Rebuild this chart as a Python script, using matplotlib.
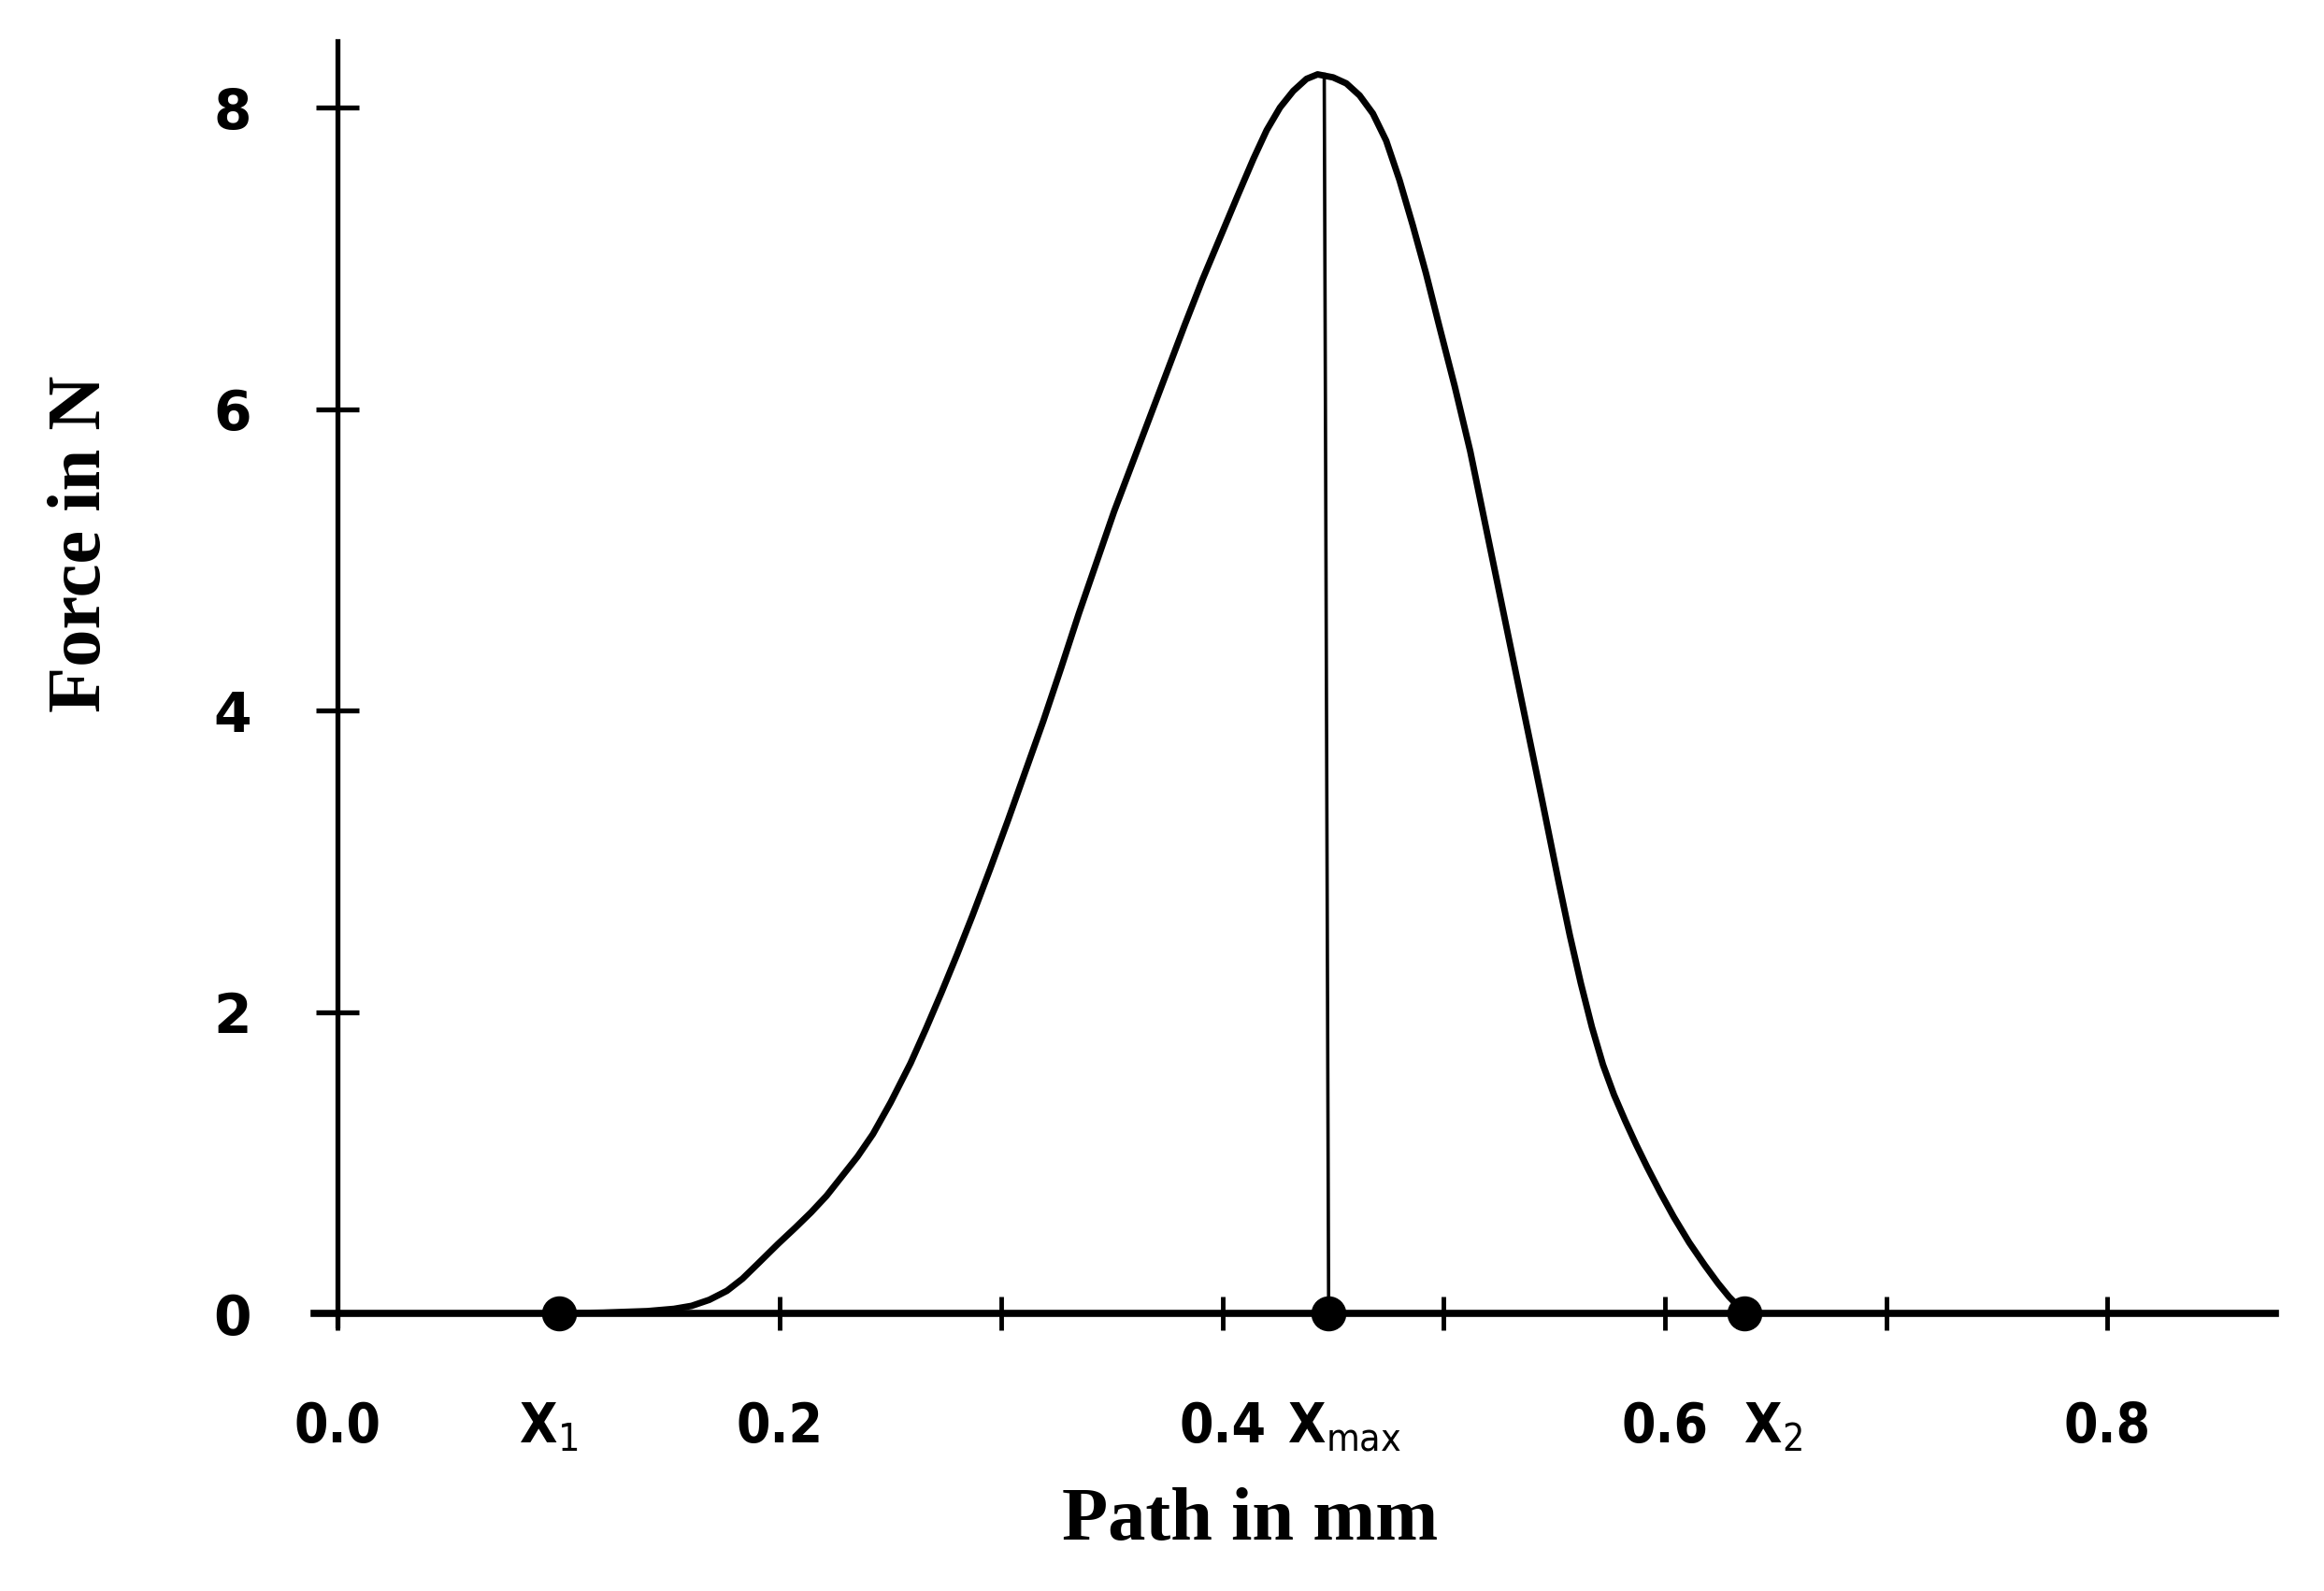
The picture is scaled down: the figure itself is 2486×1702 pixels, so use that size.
import matplotlib
matplotlib.use("Agg")
import matplotlib.pyplot as plt

# force-path curve (path in mm, force in N)
path_mm = [0.100, 0.120, 0.140, 0.152, 0.160, 0.168, 0.176, 0.183, 0.190, 0.199,
           0.207, 0.214, 0.221, 0.228, 0.235, 0.242, 0.250, 0.259, 0.266, 0.273,
           0.280, 0.287, 0.295, 0.303, 0.311, 0.319, 0.327, 0.335, 0.343, 0.351,
           0.359, 0.367, 0.375, 0.383, 0.391, 0.399, 0.407, 0.414, 0.420, 0.426,
           0.432, 0.438, 0.443, 0.450, 0.456, 0.462, 0.468, 0.474, 0.480, 0.486,
           0.492, 0.498, 0.505, 0.512, 0.520, 0.528, 0.536, 0.544, 0.552, 0.557,
           0.562, 0.567, 0.572, 0.577, 0.582, 0.587, 0.592, 0.598, 0.604, 0.611,
           0.618, 0.624, 0.629, 0.633, 0.636]
force_n = [0.00, 0.005, 0.015, 0.03, 0.05, 0.09, 0.15, 0.23, 0.33, 0.46,
           0.57, 0.67, 0.78, 0.91, 1.04, 1.19, 1.40, 1.66, 1.89, 2.13,
           2.38, 2.64, 2.95, 3.27, 3.60, 3.93, 4.28, 4.64, 4.98, 5.32,
           5.63, 5.94, 6.25, 6.56, 6.86, 7.14, 7.42, 7.66, 7.85, 8.00,
           8.11, 8.19, 8.22, 8.20, 8.16, 8.08, 7.96, 7.78, 7.52, 7.22,
           6.90, 6.55, 6.15, 5.72, 5.15, 4.58, 4.01, 3.44, 2.86, 2.51,
           2.19, 1.90, 1.65, 1.45, 1.28, 1.12, 0.97, 0.80, 0.64, 0.47,
           0.32, 0.20, 0.11, 0.05, 0.00]

# marked points on the path axis
mark_x = [0.100, 0.448, 0.636]
mark_labels = [r"X$_{\mathrm{1}}$", r"X$_{\mathrm{max}}$", r"X$_{\mathrm{2}}$"]

# vertical line from the peak down to X_max
peak_line_x = [0.446, 0.448]
peak_line_y = [8.22, 0.0]

x_major = [0.0, 0.2, 0.4, 0.6, 0.8]
x_major_labels = ["0.0", "0.2", "0.4", "0.6", "0.8"]
x_minor = [0.1, 0.3, 0.5, 0.7]
y_ticks = [0, 2, 4, 6, 8]
y_labels = ["0", "2", "4", "6", "8"]

plt.rcParams["mathtext.fontset"] = "custom"
plt.rcParams["mathtext.rm"] = "DejaVu Sans:stretch=condensed"
plt.rcParams["mathtext.bf"] = "DejaVu Sans:stretch=condensed:bold"

fig = plt.figure(figsize=(24.86, 17.02), dpi=100)
ax = fig.add_axes([0.1352, 0.1669, 0.8439, 0.8072])

ax.plot(path_mm, force_n, color="black", lw=5.0, solid_joinstyle="round",
        solid_capstyle="round", zorder=3)
ax.plot(peak_line_x, peak_line_y, color="black", lw=2.6, zorder=3)
ax.plot(mark_x, [0] * len(mark_x), "o", color="black", ms=26, zorder=4, clip_on=False)

ax.set_xlim(-0.0106, 0.876)
ax.set_ylim(-0.08, 8.44)

for s in ["top", "right"]:
    ax.spines[s].set_visible(False)
ax.spines["left"].set_position(("data", 0))
ax.spines["bottom"].set_position(("data", 0))
ax.spines["left"].set_linewidth(3.8)
ax.spines["bottom"].set_linewidth(5.5)

ax.set_xticks(x_major)
ax.set_xticklabels(x_major_labels)
ax.set_xticks(x_minor, minor=True)
ax.set_yticks(y_ticks)
ax.set_yticklabels(y_labels)

ax.tick_params(axis="x", which="both", direction="inout", length=26, width=3.5,
               pad=54)
ax.tick_params(axis="y", direction="inout", length=33, width=3.8, pad=50)
for lab in ax.get_xticklabels():
    lab.set_family("DejaVu Sans")
    lab.set_stretch("condensed")
    lab.set_fontweight("bold")
    lab.set_fontsize(42)
for lab in ax.get_yticklabels():
    lab.set_family("DejaVu Sans")
    lab.set_fontweight("bold")
    lab.set_fontsize(42)

offsets = [-8, 12, 22]
for x, lab, dx in zip(mark_x, mark_labels, offsets):
    ax.annotate(lab, xy=(x, 0), xytext=(dx, -67), textcoords="offset points",
                ha="center", va="top", fontsize=42, fontweight="bold",
                family="DejaVu Sans", fontstretch="condensed",
                annotation_clip=False)

fig.text(0.035, 0.658, "Force in N", rotation=90, ha="center", va="center",
         fontsize=58, family="Liberation Serif", fontweight="bold")
fig.text(0.538, 0.0435, "Path in mm", ha="center", va="center",
         fontsize=58, family="Liberation Serif", fontweight="bold")

fig.savefig("out.png", dpi=100, facecolor="white")
